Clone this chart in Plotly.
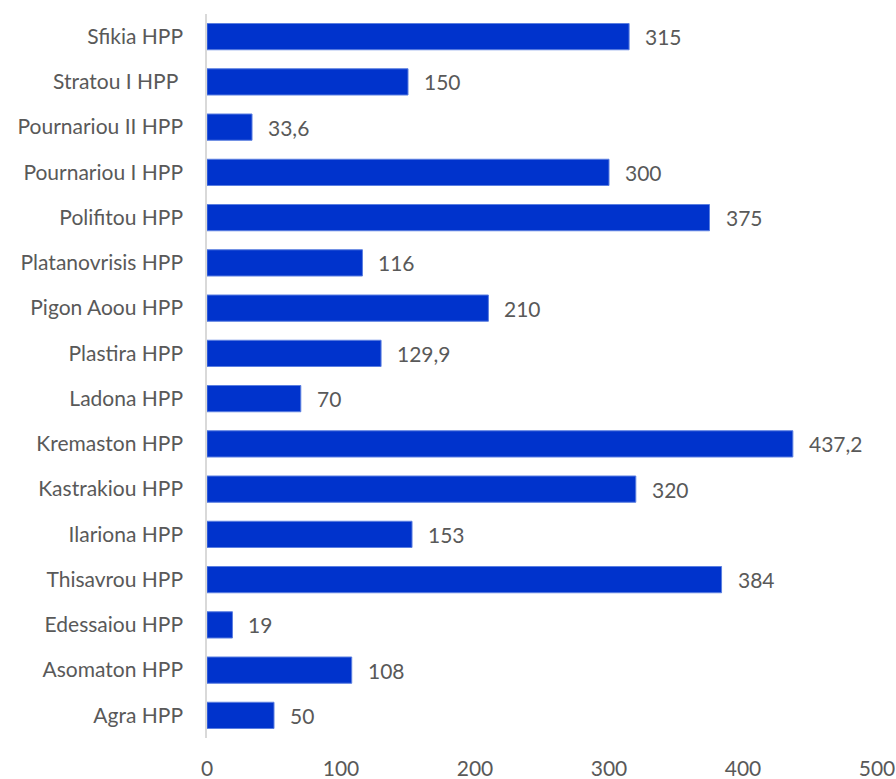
import plotly.graph_objects as go

# Installed capacity (MW) of hydroelectric power plants, bottom to top
plants = [
    "Agra HPP", "Asomaton HPP", "Edessaiou HPP", "Thisavrou HPP", "Ilariona HPP",
    "Kastrakiou HPP", "Kremaston HPP", "Ladona HPP", "Plastira HPP",
    "Pigon Aoou HPP", "Platanovrisis HPP", "Polifitou HPP", "Pournariou I HPP",
    "Pournariou II HPP", "Stratou I HPP\u00a0", "Sfikia HPP",
]
capacity = [50, 108, 19, 384, 153, 320, 437.2, 70, 129.9, 210, 116, 375, 300, 33.6, 150, 315]
x_ticks = [0, 100, 200, 300, 400, 500]


def fmt(v):
    s = f"{v:g}"
    return s.replace(".", ",")


FONT = "Lato, 'Open Sans', sans-serif"
GREY = "#595959"
SIZE = 21

fig = go.Figure(
    go.Bar(
        y=plants,
        x=capacity,
        orientation="h",
        marker=dict(color="#0033CC", line=dict(color="#5b7fe0", width=1)),
        hoverinfo="x+y",
    )
)

for name, v in zip(plants, capacity):
    fig.add_annotation(
        x=v, y=name, text=fmt(v), showarrow=False,
        xanchor="left", xshift=14,
        font=dict(family=FONT, size=SIZE, color=GREY),
    )

fig.update_layout(
    width=896, height=779,
    margin=dict(l=207, r=19, t=14, b=41, autoexpand=False),
    paper_bgcolor="white", plot_bgcolor="white",
    bargap=0.42,
    showlegend=False,
    font=dict(family=FONT, size=SIZE, color=GREY),
)
fig.update_xaxes(
    range=[0, 500], tickvals=x_ticks, showgrid=False, zeroline=False,
    showline=False, ticks="", ticklabelstandoff=16, automargin=False,
    tickfont=dict(family=FONT, size=SIZE, color=GREY),
)
fig.update_yaxes(
    showgrid=False, zeroline=False, showline=True, linecolor="#D9D9D9",
    linewidth=1.5, ticks="", ticklabelstandoff=18, automargin=False,
    tickfont=dict(family=FONT, size=SIZE, color=GREY),
)

fig.write_html("out.html")
